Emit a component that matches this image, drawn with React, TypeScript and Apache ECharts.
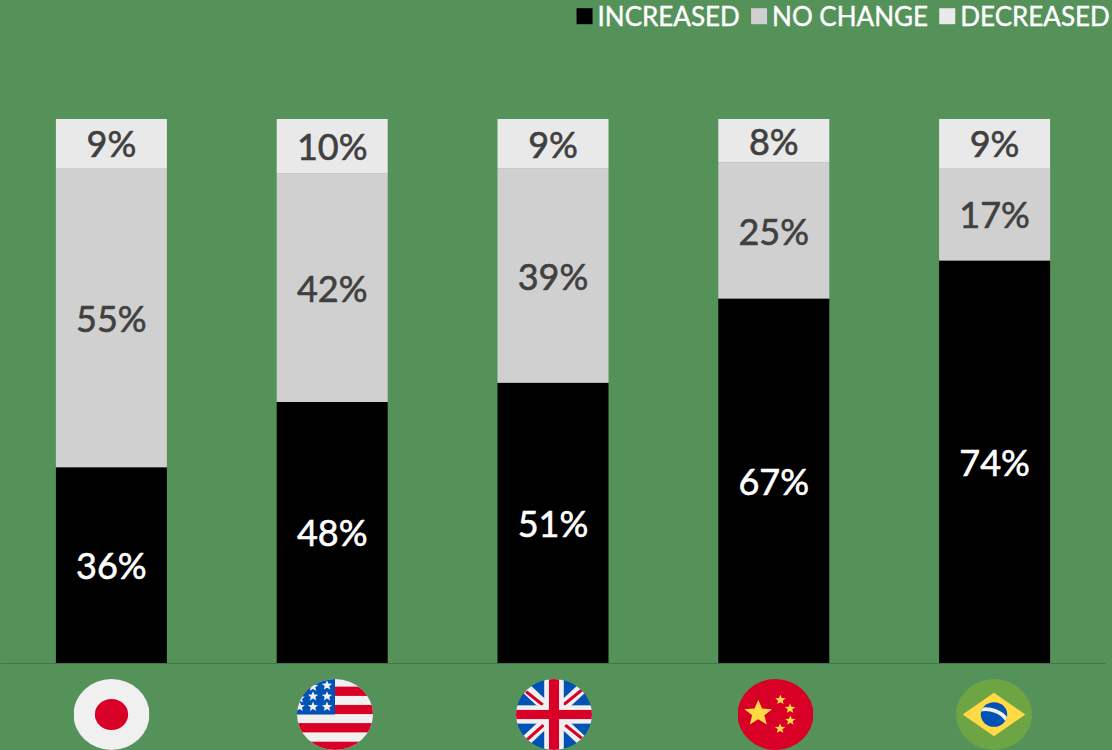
import React, { useEffect, useRef } from "react";
import * as echarts from "echarts";

const countries = ["Japan", "USA", "UK", "China", "Brazil"];
const increased = [36, 48, 51, 67, 74];
const noChange = [55, 42, 39, 25, 17];
const decreased = [9, 10, 9, 8, 9];
const seriesNames = ["INCREASED", "NO CHANGE", "DECREASED"];

const FONT = "Lato";
const RED = "#d80027";
const WHITE = "#f0f0f0";
const BLUE = "#0052b4";
const YELLOW = "#ffda44";

// Five-pointed star as an SVG polygon, in the flag's 512-unit box.
function star(cx: number, cy: number, r: number, fill: string): string {
  const pts: string[] = [];
  for (let i = 0; i < 10; i++) {
    const rad = i % 2 === 0 ? r : r * 0.44;
    const a = -Math.PI / 2 + (i * Math.PI) / 5;
    pts.push(`${(cx + rad * Math.cos(a)).toFixed(1)},${(cy + rad * Math.sin(a)).toFixed(1)}`);
  }
  return `<polygon points="${pts.join(" ")}" fill="${fill}"/>`;
}

const japanFlag = `<rect width="512" height="512" fill="${WHITE}"/><circle cx="256" cy="256" r="112" fill="${RED}"/>`;

const usaFlag =
  `<rect width="512" height="512" fill="${WHITE}"/>` +
  [[55, 67], [187, 66], [318, 67], [452, 60]]
    .map(([y, h]) => `<rect x="0" y="${y}" width="512" height="${h}" fill="${RED}"/>`)
    .join("") +
  `<rect width="256" height="256" fill="${BLUE}"/>` +
  [[202, 46], [108, 55], [108, 125], [202, 125], [18, 140], [18, 200], [108, 200], [202, 200]]
    .map(([x, y]) => star(x, y, 37, WHITE))
    .join("");

const ukDiagonal = (x1: number, y1: number, x2: number, y2: number, colour: string, w: number) =>
  `<line x1="${x1}" y1="${y1}" x2="${x2}" y2="${y2}" stroke="${colour}" stroke-width="${w}"/>`;

const ukFlag =
  `<rect width="512" height="512" fill="${BLUE}"/>` +
  ukDiagonal(0, 0, 512, 512, WHITE, 74) +
  ukDiagonal(512, 0, 0, 512, WHITE, 74) +
  ukDiagonal(68, 91, 180, 187, RED, 22) +
  ukDiagonal(444, 79, 320, 187, RED, 22) +
  ukDiagonal(72, 440, 185, 332, RED, 22) +
  ukDiagonal(444, 428, 332, 332, RED, 22) +
  `<rect x="190" width="132" height="512" fill="${WHITE}"/><rect y="190" width="512" height="132" fill="${WHITE}"/>` +
  `<rect x="222" width="68" height="512" fill="${RED}"/><rect y="223" width="512" height="66" fill="${RED}"/>`;

const chinaFlag =
  `<rect width="512" height="512" fill="${RED}"/>` +
  star(140, 248, 98, YELLOW) +
  star(289, 151, 37, YELLOW) +
  star(354, 214, 37, YELLOW) +
  star(356, 300, 37, YELLOW) +
  star(287, 358, 37, YELLOW);

const brazilFlag =
  `<rect width="512" height="512" fill="#6da544"/>` +
  `<polygon points="256,100 467,256 256,412 45,256" fill="${YELLOW}"/>` +
  `<circle cx="256" cy="256" r="89" fill="${BLUE}"/>` +
  `<clipPath id="globe"><circle cx="256" cy="256" r="89"/></clipPath>` +
  `<path d="M160 222 C230 205 310 235 345 300" fill="none" stroke="${WHITE}" stroke-width="28" clip-path="url(#globe)"/>`;

// Wraps a flag's artwork in a circle; the box is stretched to the image element's size.
function flagImage(body: string, key: string): string {
  const svg =
    `<svg xmlns="http://www.w3.org/2000/svg" viewBox="0 0 512 512" preserveAspectRatio="none" width="512" height="512">` +
    `<defs><clipPath id="disc${key}"><circle cx="256" cy="256" r="256"/></clipPath></defs>` +
    `<g clip-path="url(#disc${key})">${body}</g></svg>`;
  return "data:image/svg+xml;charset=utf-8," + encodeURIComponent(svg);
}

const flags = [japanFlag, usaFlag, ukFlag, chinaFlag, brazilFlag];
const flagCentres = [111.5, 335, 554, 775.5, 994];

export default function App() {
  const ref = useRef<HTMLDivElement>(null);

  useEffect(() => {
    const chart = echarts.init(ref.current!, undefined, { renderer: "svg" });
    const totals = countries.map((_, i) => increased[i] + noChange[i] + decreased[i]);
    // Each column fills the full height: stated percentages are scaled by their column's sum.
    const makeSeries = (name: string, values: number[], colour: string, labelColour: string) => ({
      name,
      type: "bar",
      stack: "share",
      barWidth: 111,
      itemStyle: { color: colour },
      label: {
        show: true,
        position: "inside",
        fontFamily: FONT,
        fontSize: 36,
        color: labelColour,
        textBorderColor: labelColour,
        textBorderWidth: 0.6,
        formatter: (p: any) => `${values[p.dataIndex]}%`,
      },
      data: values.map((v, i) => (v / totals[i]) * 100),
    });

    chart.setOption({
      animation: false,
      backgroundColor: "#55925a",
      legend: {
        top: 3,
        right: 2,
        padding: 0,
        itemWidth: 16,
        itemHeight: 16,
        itemGap: 11,
        icon: "rect",
        textStyle: {
          color: "#ffffff",
          fontFamily: FONT,
          fontSize: 26,
          textBorderColor: "#ffffff",
          textBorderWidth: 0.4,
        },
        data: seriesNames,
      },
      grid: { left: 1, right: 7, top: 119, bottom: 87 },
      xAxis: {
        type: "category",
        data: countries,
        axisLine: { lineStyle: { color: "#43744a", width: 1 } },
        axisTick: { show: false },
        axisLabel: { show: false },
      },
      yAxis: { type: "value", min: 0, max: 100, show: false, splitLine: { show: false } },
      series: [
        makeSeries(seriesNames[0], increased, "#000000", "#ffffff"),
        makeSeries(seriesNames[1], noChange, "#d0d0d0", "#404040"),
        makeSeries(seriesNames[2], decreased, "#e9e9e9", "#404040"),
      ],
      graphic: flags.map((body, i) => ({
        type: "image",
        x: flagCentres[i] - 38,
        y: 679,
        style: { image: flagImage(body, String(i)), width: 76, height: 71 },
      })),
    });
    return () => chart.dispose();
  }, []);

  return <div ref={ref} style={{ position: "absolute", left: 0, top: 0, width: 1112, height: 750 }} />;
}
